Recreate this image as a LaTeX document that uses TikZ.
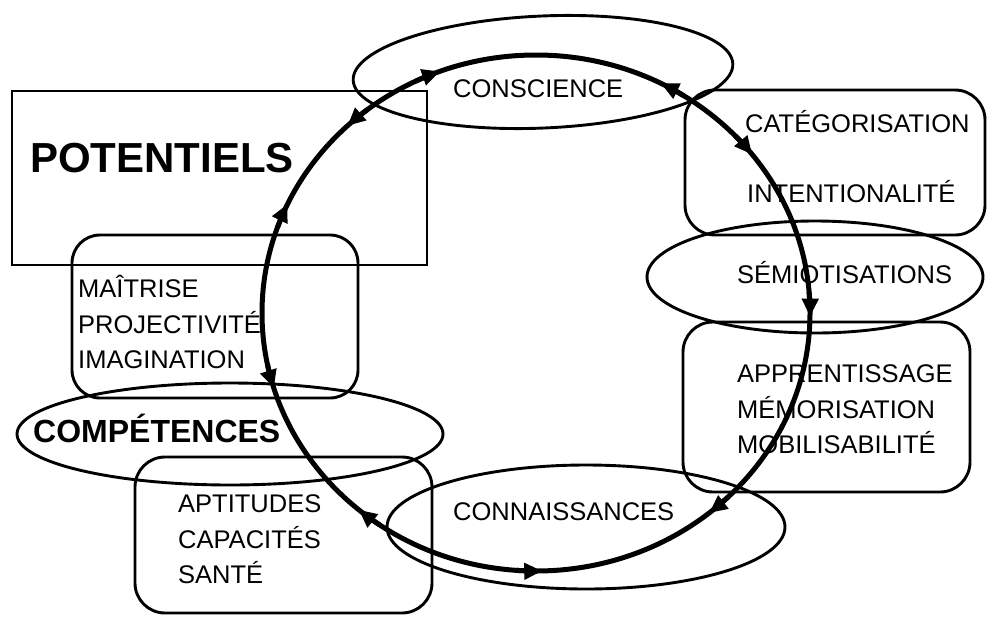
\documentclass[tikz,border=0pt]{standalone}
\usepackage{fontspec}
\setmainfont{Liberation Sans}
\usetikzlibrary{shapes.geometric,arrows.meta}

\tikzset{
  frame/.style={draw,line width=2.5pt,inner sep=0pt},
  box/.style={draw,line width=2.9pt,rounded corners=28pt,inner sep=0pt},
  oval/.style={draw,ellipse,line width=2.9pt,inner sep=0pt},
  lbl/.style={anchor=base west,inner sep=0pt,font=\fontsize{25.5}{30}\selectfont},
  biglbl/.style={lbl,font=\fontsize{32}{38}\selectfont\bfseries},
  cyc/.style={line width=5pt},
  tip/.style={cyc,-{Triangle[length=18pt,width=16pt]}}
}

\begin{document}
\begin{tikzpicture}[x=1pt,y=-1pt]
\useasboundingbox (0,0) rectangle (987,616);

% boxes and ovals
\node[frame,minimum width=415pt,minimum height=174pt] (potbox) at (219.5,178) {};
\node[box,minimum width=286pt,minimum height=163pt] (maitbox) at (215,316.5) {};
\node[box,minimum width=300pt,minimum height=145pt,rounded corners=30pt] (catbox) at (835,162.5) {};
\node[box,minimum width=287pt,minimum height=170pt,rounded corners=30pt] (appbox) at (826.5,407) {};
\node[box,minimum width=297pt,minimum height=156pt,rounded corners=30pt] (aptbox) at (283.5,535) {};
\node[oval,minimum width=380pt,minimum height=112pt,rotate=2.5] (consc) at (543,72) {};
\node[oval,minimum width=336pt,minimum height=112pt] (semio) at (815,277) {};
\node[oval,minimum width=398pt,minimum height=124pt] (connais) at (586,527) {};
\node[oval,minimum width=426pt,minimum height=102pt] (compet) at (230,434) {};

% texts
\node[biglbl,font=\fontsize{42}{48}\selectfont\bfseries] (potentiels) at (30,172) {POTENTIELS};
\node[biglbl] (competences) at (33,442) {COMPÉTENCES};
\node[lbl] (conscience) at (453,97) {CONSCIENCE};
\node[lbl] (categ) at (745,132) {CATÉGORISATION};
\node[lbl] (intent) at (747,202) {INTENTIONALITÉ};
\node[lbl] (semiot) at (737,283) {SÉMIOTISATIONS};
\node[lbl] (appr) at (737,382) {APPRENTISSAGE};
\node[lbl] (memo) at (737,418) {MÉMORISATION};
\node[lbl] (mobi) at (737,453) {MOBILISABILITÉ};
\node[lbl] (connaissances) at (453,520) {CONNAISSANCES};
\node[lbl] (aptitudes) at (178,512) {APTITUDES};
\node[lbl] (capacites) at (178,548) {CAPACITÉS};
\node[lbl] (sante) at (178,583) {SANTÉ};
\node[lbl] (maitrise) at (78,297) {MAÎTRISE};
\node[lbl] (project) at (78,333) {PROJECTIVITÉ};
\node[lbl] (imagin) at (78,368) {IMAGINATION};

% the cycle
\coordinate (c) at (536,313);
\draw[cyc] (c) ellipse [x radius=274, y radius=258];
\foreach \a/\d in {248/1, 228/-1, 203.5/1, 164.6/-1, 128.8/1, 90.2/-1, 49.3/1, 359.3/1, 320.6/1, 298.6/-1}
  \draw[tip] (c) ++({\a-4*\d}:274 and 258)
    arc [start angle={\a-4*\d}, end angle={\a+1.5*\d}, x radius=274, y radius=258];
\end{tikzpicture}
\end{document}
